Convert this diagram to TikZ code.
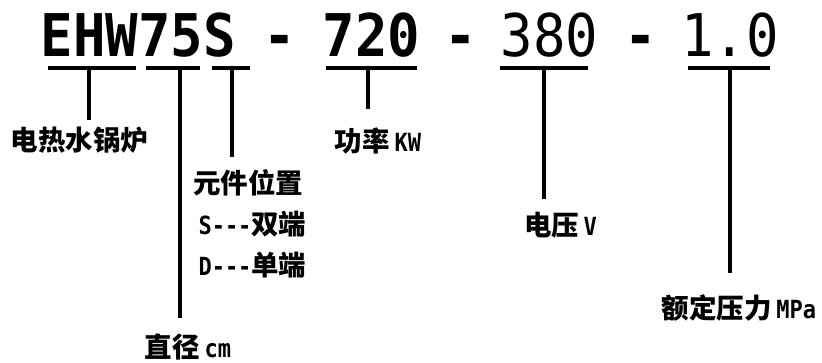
\documentclass[tikz,border=0pt]{standalone}
\usepackage{fontspec}
\newfontfamily\cjk{Noto Sans CJK SC}
\newfontfamily\mono{DejaVu Sans Mono}
\newcommand\latx[1]{{\fontsize{25}{27}\selectfont\mono\bfseries\scalebox{0.88}[1]{#1}}}
\tikzset{
  title/.style={inner sep=0pt, anchor=base, font=\fontsize{54}{60}\selectfont\mono},
  lbl/.style={inner sep=0pt, anchor=center, font=\fontsize{27.5}{30}\selectfont\cjk\bfseries},
  bar/.style={line width=4pt, line cap=butt},
  stem/.style={line width=3.8pt, line cap=butt}
}
\begin{document}
\begin{tikzpicture}[x=1pt,y=-1pt]
\useasboundingbox (0,0) rectangle (822,362);
% title parts
\node[title] (tA) at (138.5,56) {\scalebox{1}[1.09]{\bfseries EHW75S}};
\node[title] (d1) at (279.5,56) {\scalebox{1}[1.09]{\bfseries -}};
\node[title] (tB) at (371.5,56) {\scalebox{1}[1.09]{\bfseries 720}};
\node[title] (d2) at (460.5,56) {\scalebox{1}[1.09]{\bfseries -}};
\node[title] (tC) at (549.5,56) {\scalebox{1}[1.09]{380}};
\node[title] (d3) at (640.5,56) {\scalebox{1}[1.09]{\bfseries -}};
\node[title] (tD) at (730,56) {\scalebox{1}[1.09]{1.0}};
% underline coordinates
\coordinate (u1a) at (48,68);  \coordinate (u1b) at (136,68);
\coordinate (u2a) at (146,68); \coordinate (u2b) at (200,68);
\coordinate (u3a) at (212,68); \coordinate (u3b) at (250,68);
\coordinate (u4a) at (326,68); \coordinate (u4b) at (417,68);
\coordinate (u5a) at (500,68); \coordinate (u5b) at (588,68);
\coordinate (u6a) at (688,68); \coordinate (u6b) at (770,68);
\foreach \i in {1,...,6} \draw[bar] (u\i a) -- (u\i b);
% stems
\coordinate (s1) at (89,68);   \coordinate (e1) at (89,120);
\coordinate (s2) at (180,68);  \coordinate (e2) at (180,318);
\coordinate (s3) at (232,68);  \coordinate (e3) at (232,157);
\coordinate (s4) at (368,68);  \coordinate (e4) at (368,109);
\coordinate (s5) at (544,68);  \coordinate (e5) at (544,199);
\coordinate (s6) at (730,68);  \coordinate (e6) at (730,273);
\foreach \i in {1,...,6} \draw[stem] (s\i) -- (e\i);
% labels
\node[lbl] (l1) at (79.5,140.5) {电热水锅炉};
\node[lbl] (l2) at (188,346.5) {直径\,\latx{cm}};
\node[lbl] (l3) at (248,182.5) {元件位置};
\node[lbl] (l3a) at (252.5,224.5) {\latx{S---}双端};
\node[lbl] (l3b) at (252.5,265) {\latx{D---}单端};
\node[lbl] (l4) at (378,141.5) {功率\,\latx{KW}};
\node[lbl] (l5) at (560.5,225) {电压\,\latx{V}};
\node[lbl] (l6) at (739,307.5) {额定压力\,\latx{MPa}};
\end{tikzpicture}
\end{document}
